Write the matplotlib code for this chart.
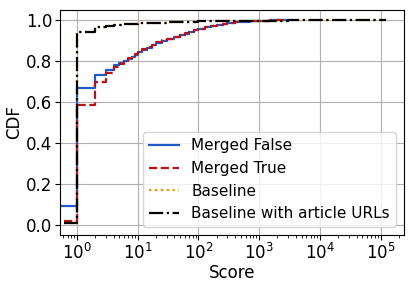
import matplotlib
matplotlib.use('agg')
import matplotlib.pyplot as plt

# step CDF data (where='post')
merged_false_x = [0.5, 1, 2, 3, 4, 5, 6, 7, 8, 9, 10, 12, 14, 17, 20, 25, 30, 40, 50, 60, 70, 85,
                  100, 130, 160, 200, 250, 300, 400, 500, 700, 1000, 1500, 3000]
merged_false_y = [0.09, 0.67, 0.73, 0.755, 0.78, 0.79, 0.80, 0.81, 0.82, 0.83, 0.843, 0.855, 0.865, 0.877,
                  0.89, 0.90, 0.907, 0.918, 0.927, 0.935, 0.942, 0.95, 0.957, 0.965, 0.971, 0.977,
                  0.982, 0.986, 0.99, 0.993, 0.996, 0.998, 0.999, 1.0]

merged_true_x = [0.62, 1, 2, 3, 4, 5, 6, 7, 8, 9, 10, 12, 14, 17, 20, 25, 30, 40, 50, 60, 70, 85,
                 100, 130, 160, 200, 250, 300, 400, 500, 700, 1000, 1500, 3000]
merged_true_y = [0.02, 0.585, 0.70, 0.74, 0.77, 0.785, 0.80, 0.815, 0.825, 0.835, 0.847, 0.858, 0.868, 0.88,
                 0.892, 0.902, 0.91, 0.92, 0.93, 0.937, 0.944, 0.952, 0.959, 0.967, 0.973, 0.978,
                 0.983, 0.987, 0.991, 0.994, 0.996, 0.998, 0.999, 1.0]

baseline_x = [0.62, 1, 2, 3, 4, 6, 10, 20, 30, 60, 100, 300, 1000, 3000, 10000, 120000]
baseline_y = [0.01, 0.94, 0.965, 0.972, 0.977, 0.981, 0.985, 0.988, 0.99, 0.992, 0.994, 0.996, 0.998, 0.999, 1.0, 1.0]

fig = plt.figure(figsize=(4.15, 2.85), dpi=100)
ax = fig.add_axes([0.145, 0.175, 0.828, 0.79])

ax.step(merged_false_x, merged_false_y, where='post', color='#1f5bc6', lw=1.6, label='Merged False')
ax.step(merged_true_x, merged_true_y, where='post', color='#b5141b', lw=1.6, ls='--', label='Merged True')
ax.step(baseline_x, baseline_y, where='post', color='darkorange', lw=1.6, ls=':', label='Baseline')
ax.step(baseline_x, baseline_y, where='post', color='black', lw=1.6, ls='-.', label='Baseline with article URLs')

ax.set_xscale('log')
ax.set_xlim(0.53, 2.4e5)
ax.set_ylim(-0.05, 1.05)
ax.set_xticks([1, 10, 100, 1000, 10000, 100000])
ax.grid(True, color='#b0b0b0', lw=0.8)
ax.tick_params(labelsize=12, pad=2)
ax.set_xlabel('Score', fontsize=12, labelpad=1)
ax.set_ylabel('CDF', fontsize=12, labelpad=2)
ax.legend(loc='lower right', fontsize=11)

fig.savefig('out.png', dpi=100)
